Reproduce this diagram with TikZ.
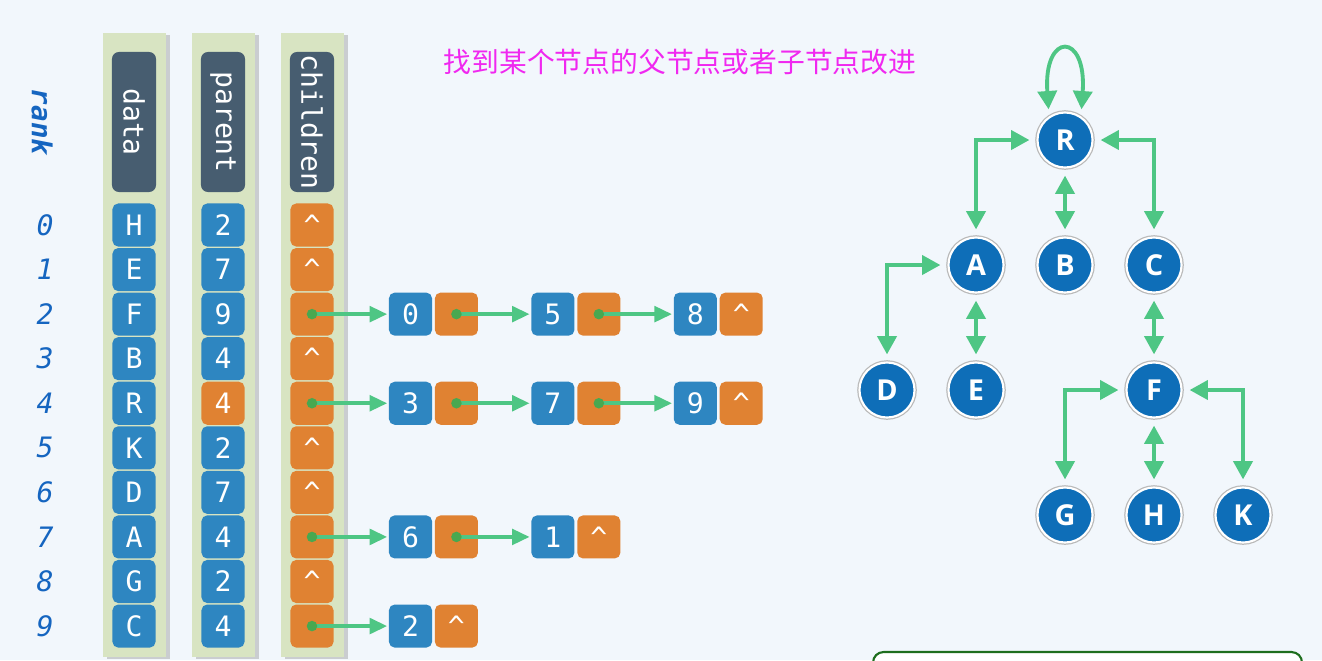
\documentclass[tikz,border=0pt]{standalone}
\usepackage{fontspec}
\usepackage{xcolor}
\usepackage{tikz}
\usetikzlibrary{arrows.meta, positioning, shadows}
\newfontfamily\monofont{DejaVu Sans Mono}
\newfontfamily\treefont{Open Sans}
\newfontfamily\cjk{Noto Sans CJK SC}
\definecolor{bgblue}{RGB}{242, 247, 252}
\definecolor{stripgreen}{RGB}{216, 228, 194}
\definecolor{headslate}{RGB}{71, 93, 112}
\definecolor{cellblue}{RGB}{46, 134, 193}
\definecolor{cellorange}{RGB}{224, 130, 50}
\definecolor{linkgreen}{RGB}{78, 198, 132}
\definecolor{dotgreen}{RGB}{72, 168, 80}
\definecolor{rankblue}{RGB}{21, 101, 192}
\definecolor{nodeblue}{RGB}{14, 110, 184}
\definecolor{titlemag}{RGB}{240, 40, 240}
\definecolor{boxgreen}{RGB}{30, 110, 30}
\tikzset{
  cell/.style={minimum width=0.43cm, minimum height=0.43cm, inner sep=0pt,
    rounded corners=1.6pt, text=white, font=\monofont\fontsize{8}{9}\selectfont},
  bluecell/.style={cell, fill=cellblue},
  orangecell/.style={cell, fill=cellorange},
  headbox/.style={fill=headslate, rounded corners=2pt, minimum width=1.40cm,
    minimum height=0.44cm, inner sep=0pt, rotate=-90, text=white,
    font=\monofont\fontsize{8}{9}\selectfont},
  strip/.style={fill=stripgreen, drop shadow={shadow xshift=1.1pt, shadow yshift=-0.6pt, opacity=0.35}},
  rankdigit/.style={text=rankblue, font=\monofont\itshape\fontsize{8}{9}\selectfont},
  ptr/.style={linkgreen, line width=1.1pt, -{Triangle[length=5pt, width=4.4pt]}, shorten >=0.3pt},
  treenode/.style={circle, minimum size=0.55cm, inner sep=0pt, fill=nodeblue, draw=white,
    line width=0.6pt, preaction={draw=gray!55, line width=1.3pt}, text=white,
    font=\treefont\bfseries\fontsize{8.2}{9}\selectfont},
  link/.style={linkgreen, line width=1.1pt,
    {Triangle[length=5.2pt, width=5.4pt]}-{Triangle[length=5.2pt, width=5.4pt]},
    shorten <=2pt, shorten >=2pt},
}

\begin{document}
\begin{tikzpicture}[x=0.01cm, y=-0.01cm]
  \def\rowh{44.56}
  \useasboundingbox (0,0) rectangle (1322,660);
  \clip (0,0) rectangle (1322,660);
  \fill[bgblue] (0,0) rectangle (1322,660);

  % column strips
  \fill[strip] (103,33) rectangle (166,657);
  \fill[strip] (192,33) rectangle (255,657);
  \fill[strip] (281,33) rectangle (344,657);

  % column heads
  \node[headbox] (hdata) at (134,122) {data};
  \node[headbox] (hparent) at (223,122) {parent};
  \node[headbox] (hchild) at (312,122) {children};

  % rank
  \node[rankdigit, rotate=-90, font=\monofont\bfseries\itshape\fontsize{7.8}{9}\selectfont] (rank) at (42,122) {rank};
  \node[rankdigit] (r0) at (45,{225+0*\rowh}) {0};
  \node[rankdigit] (r1) at (45,{225+1*\rowh}) {1};
  \node[rankdigit] (r2) at (45,{225+2*\rowh}) {2};
  \node[rankdigit] (r3) at (45,{225+3*\rowh}) {3};
  \node[rankdigit] (r4) at (45,{225+4*\rowh}) {4};
  \node[rankdigit] (r5) at (45,{225+5*\rowh}) {5};
  \node[rankdigit] (r6) at (45,{225+6*\rowh}) {6};
  \node[rankdigit] (r7) at (45,{225+7*\rowh}) {7};
  \node[rankdigit] (r8) at (45,{225+8*\rowh}) {8};
  \node[rankdigit] (r9) at (45,{225+9*\rowh}) {9};

  % data
  \node[bluecell] (d0) at (134,{225+0*\rowh}) {H};
  \node[bluecell] (d1) at (134,{225+1*\rowh}) {E};
  \node[bluecell] (d2) at (134,{225+2*\rowh}) {F};
  \node[bluecell] (d3) at (134,{225+3*\rowh}) {B};
  \node[bluecell] (d4) at (134,{225+4*\rowh}) {R};
  \node[bluecell] (d5) at (134,{225+5*\rowh}) {K};
  \node[bluecell] (d6) at (134,{225+6*\rowh}) {D};
  \node[bluecell] (d7) at (134,{225+7*\rowh}) {A};
  \node[bluecell] (d8) at (134,{225+8*\rowh}) {G};
  \node[bluecell] (d9) at (134,{225+9*\rowh}) {C};

  % parent
  \node[bluecell] (p0) at (223,{225+0*\rowh}) {2};
  \node[bluecell] (p1) at (223,{225+1*\rowh}) {7};
  \node[bluecell] (p2) at (223,{225+2*\rowh}) {9};
  \node[bluecell] (p3) at (223,{225+3*\rowh}) {4};
  \node[orangecell] (p4) at (223,{225+4*\rowh}) {4};
  \node[bluecell] (p5) at (223,{225+5*\rowh}) {2};
  \node[bluecell] (p6) at (223,{225+6*\rowh}) {7};
  \node[bluecell] (p7) at (223,{225+7*\rowh}) {4};
  \node[bluecell] (p8) at (223,{225+8*\rowh}) {2};
  \node[bluecell] (p9) at (223,{225+9*\rowh}) {4};

  % children
  \node[orangecell] (c0) at (312,{225+0*\rowh}) {\textasciicircum};
  \node[orangecell] (c1) at (312,{225+1*\rowh}) {\textasciicircum};
  \node[orangecell] (c2) at (312,{225+2*\rowh}) {};
  \node[orangecell] (c3) at (312,{225+3*\rowh}) {\textasciicircum};
  \node[orangecell] (c4) at (312,{225+4*\rowh}) {};
  \node[orangecell] (c5) at (312,{225+5*\rowh}) {\textasciicircum};
  \node[orangecell] (c6) at (312,{225+6*\rowh}) {\textasciicircum};
  \node[orangecell] (c7) at (312,{225+7*\rowh}) {};
  \node[orangecell] (c8) at (312,{225+8*\rowh}) {\textasciicircum};
  \node[orangecell] (c9) at (312,{225+9*\rowh}) {};

  % child list of rank 2
  \node[bluecell] (n20) at (410.5,{225+2*\rowh}) {0};
  \node[orangecell, right=0.015cm of n20] (n20p) {};
  \node[bluecell, right=0.52cm of n20p] (n25) {5};
  \node[orangecell, right=0.015cm of n25] (n25p) {};
  \node[bluecell, right=0.52cm of n25p] (n28) {8};
  \node[orangecell, right=0.015cm of n28] (n28p) {\textasciicircum};
  \draw[ptr] (c2.center) -- (n20);
  \draw[ptr] (n20p.center) -- (n25);
  \draw[ptr] (n25p.center) -- (n28);

  % child list of rank 4
  \node[bluecell] (n43) at (410.5,{225+4*\rowh}) {3};
  \node[orangecell, right=0.015cm of n43] (n43p) {};
  \node[bluecell, right=0.52cm of n43p] (n47) {7};
  \node[orangecell, right=0.015cm of n47] (n47p) {};
  \node[bluecell, right=0.52cm of n47p] (n49) {9};
  \node[orangecell, right=0.015cm of n49] (n49p) {\textasciicircum};
  \draw[ptr] (c4.center) -- (n43);
  \draw[ptr] (n43p.center) -- (n47);
  \draw[ptr] (n47p.center) -- (n49);

  % child list of rank 7
  \node[bluecell] (n76) at (410.5,{225+7*\rowh}) {6};
  \node[orangecell, right=0.015cm of n76] (n76p) {};
  \node[bluecell, right=0.52cm of n76p] (n71) {1};
  \node[orangecell, right=0.015cm of n71] (n71p) {\textasciicircum};
  \draw[ptr] (c7.center) -- (n76);
  \draw[ptr] (n76p.center) -- (n71);

  % child list of rank 9
  \node[bluecell] (n92) at (410.5,{225+9*\rowh}) {2};
  \node[orangecell, right=0.015cm of n92] (n92p) {\textasciicircum};
  \draw[ptr] (c9.center) -- (n92);

  % pointer dots
  \foreach \p in {c2, c4, c7, c9, n20p, n25p, n43p, n47p, n76p}
    \fill[dotgreen] (\p) circle (1.5pt);

  % title
  \node[font=\cjk\fontsize{7.9}{9}\selectfont, text=titlemag] (title) at (680,62)
    {找到某个节点的父节点或者子节点改进};

  % tree
  \node[treenode] (R) at (1065,140) {R};
  \node[treenode] (A) at (976,265) {A};
  \node[treenode] (B) at (1065,265) {B};
  \node[treenode] (C) at (1154,265) {C};
  \node[treenode] (D) at (887,390) {D};
  \node[treenode] (E) at (976,390) {E};
  \node[treenode] (F) at (1154,390) {F};
  \node[treenode] (G) at (1065,515) {G};
  \node[treenode] (H) at (1154,515) {H};
  \node[treenode] (K) at (1243,515) {K};

  \draw[link] (R.124) .. controls +(94:0.85cm) and +(86:0.85cm) .. (R.56);
  \draw[link] (A) |- (R);
  \draw[link] (B) -- (R);
  \draw[link] (C) |- (R);
  \draw[link] (D) |- (A);
  \draw[link] (E) -- (A);
  \draw[link] (F) -- (C);
  \draw[link] (G) |- (F);
  \draw[link] (H) -- (F);
  \draw[link] (K) |- (F);

  % box at the bottom
  \draw[boxgreen, line width=0.6pt, fill=white, rounded corners=3pt] (873,652) rectangle (1302,720);
\end{tikzpicture}
\end{document}
